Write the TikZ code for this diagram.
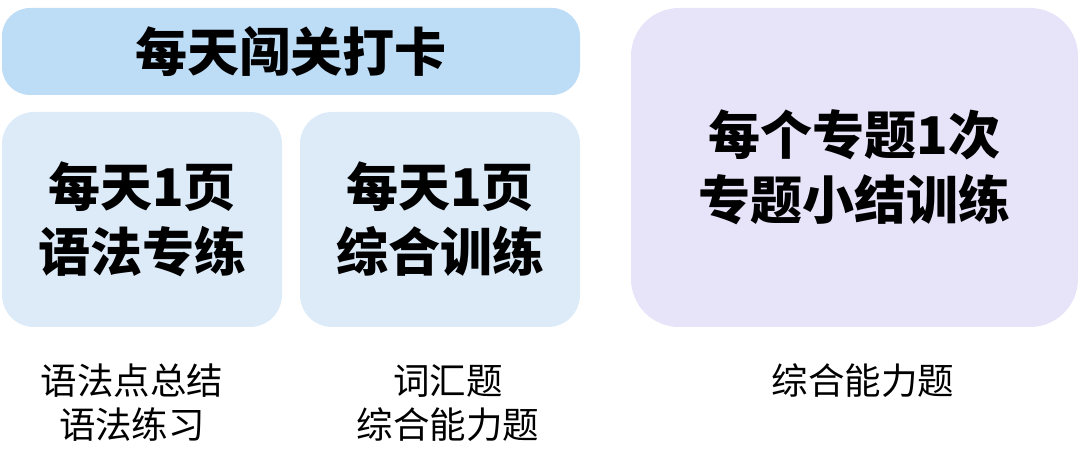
\documentclass[tikz,border=0pt]{standalone}
\usepackage{fontspec}
\newfontfamily\cjk{Noto Sans CJK SC}
\definecolor{barblue}{RGB}{189,220,246}
\definecolor{boxblue}{RGB}{221,235,249}
\definecolor{lav}{RGB}{231,228,250}
\begin{document}
\begin{tikzpicture}[x=1pt,y=-1pt,
  card/.style={rectangle, inner sep=0pt, outer sep=0pt, align=center,
    font=\cjk\bfseries\fontsize{52}{65}\selectfont},
  note/.style={inner sep=0pt, align=center, font=\cjk\fontsize{36.5}{44}\selectfont}]
\useasboundingbox (0,0) rectangle (1080,473);
\node[card, fill=barblue, rounded corners=28pt, minimum width=578pt, minimum height=87pt] (bar) at (291,51.5) {每天闯关打卡};
\node[card, fill=boxblue, rounded corners=32pt, minimum width=280pt, minimum height=215pt] (gram) at (142,219.5) {每天1页\\语法专练};
\node[card, fill=boxblue, rounded corners=32pt, minimum width=280pt, minimum height=215pt] (comp) at (440,219.5) {每天1页\\综合训练};
\node[card, fill=lav, rounded corners=48pt, minimum width=447pt, minimum height=319pt] (topic) at (854.5,167.5) {每个专题1次\\专题小结训练};
\node[note] (n1) at (132,403) {语法点总结\\语法练习};
\node[note] (n2) at (448,403) {词汇题\\综合能力题};
\node[note] (n3) at (863,381) {综合能力题};
\end{tikzpicture}
\end{document}
